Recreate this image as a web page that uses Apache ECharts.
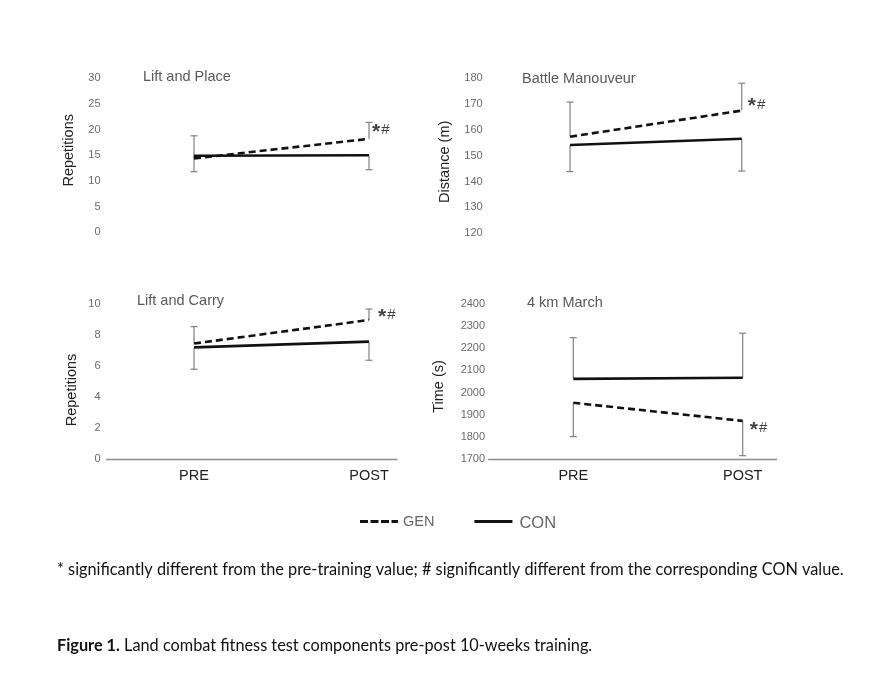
<!DOCTYPE html>
<html>
<head>
<meta charset="utf-8">
<script src="https://cdn.jsdelivr.net/npm/echarts@6/dist/echarts.min.js"></script>
<style>
html,body{margin:0;padding:0;background:#fff;}
#chart{width:875px;height:690px;}
</style>
</head>
<body>
<div id="chart"></div>
<script>
// ---------- data ----------
const categories = ['PRE', 'POST'];
const panelTitles = ['Lift and Place', 'Battle Manouveur', 'Lift and Carry', '4 km March'];
const yAxisNames = ['Repetitions', 'Distance (m)', 'Repetitions', 'Time (s)'];
const yMins = [0, 120, 0, 1700];
const yMaxs = [30, 180, 10, 2400];
const yIntervals = [5, 10, 2, 100];

const genLiftPlace = [14.4, 18.2];
const genLiftPlaceSD = [4.4, 3.2];
const conLiftPlace = [14.9, 15.0];
const conLiftPlaceSD = [3.1, 2.8];

const genBattle = [157.4, 167.5];
const genBattleSD = [13.4, 10.6];
const conBattle = [154.2, 156.6];
const conBattleSD = [10.3, 12.5];

const genCarry = [7.45, 8.97];
const genCarrySD = [1.09, 0.71];
const conCarry = [7.2, 7.57];
const conCarrySD = [1.41, 1.2];

const genMarch = [1954, 1872];
const genMarchSD = [153, 157];
const conMarch = [2062, 2067];
const conMarchSD = [186, 201];

// error bar drawn upward (+1) or downward (-1)
const genErrDir = [1, 1, 1, -1];
const conErrDir = [-1, -1, -1, 1];

const sigMark = '*#';
const seriesNames = ['GEN', 'CON'];
const footnote = '* significantly different from the pre-training value; # significantly different from the corresponding CON value.';
const captionBold = 'Figure 1.';
const captionText = ' Land combat fitness test components pre-post 10-weeks training.';

const genData = [genLiftPlace, genBattle, genCarry, genMarch];
const genSD = [genLiftPlaceSD, genBattleSD, genCarrySD, genMarchSD];
const conData = [conLiftPlace, conBattle, conCarry, conMarch];
const conSD = [conLiftPlaceSD, conBattleSD, conCarrySD, conMarchSD];

// ---------- layout ----------
const grids = [
  {left: 106.5, top: 78.3, width: 290.5, height: 154},
  {left: 484.2, top: 78.3, width: 291.9, height: 155},
  {left: 106.5, top: 304, width: 290.5, height: 155},
  {left: 488.6, top: 304, width: 288, height: 155}
];
const xMaxs = [1.16, 1.2, 1.16, 1.2];
const labelMargins = [6, 1.5, 6, 3.5];
const nameGaps = [30, 32, 27.5, 42.5];
const namePads = [[0,0,0,10],[0,12,0,0],[0,17,0,0],[0,10,0,0]];
const titlePos = [[143, 69], [522, 71], [137, 293], [527, 295]];
const sigLabel = [
  {position: 'right', distance: 3, offset: [0, -9]},
  {position: 'right', distance: 6, offset: [0, -6]},
  {position: 'right', distance: 9, offset: [0, -5]},
  {position: 'right', distance: 7, offset: [0, 7]}
];

const axisFont = 'Liberation Sans, Arial, sans-serif';
const lineColor = '#111';

function errItems(vals, sds, dir) {
  return categories.map((c, i) => [i, vals[i], vals[i] + dir * sds[i]]);
}

function renderErr(params, api) {
  const x = api.value(0);
  const p1 = api.coord([x, api.value(1)]);
  const p2 = api.coord([x, api.value(2)]);
  const cap = 3.5;
  const st = {stroke: '#808080', lineWidth: 1.2};
  return {
    type: 'group',
    children: [
      {type: 'line', shape: {x1: p1[0], y1: p1[1], x2: p2[0], y2: p2[1]}, style: st},
      {type: 'line', shape: {x1: p2[0] - cap, y1: p2[1], x2: p2[0] + cap, y2: p2[1]}, style: st}
    ]
  };
}

const title = panelTitles.map((t, i) => ({
  text: t, left: titlePos[i][0], top: titlePos[i][1], padding: 0,
  textStyle: {fontFamily: axisFont, fontSize: 14.5, fontWeight: 'normal', color: '#595959'}
}));
title.push({
  text: footnote, left: 57, top: 562, padding: 0,
  textStyle: {fontFamily: 'Lato, sans-serif', fontSize: 16.3, fontWeight: 'normal', color: '#111'}
});
title.push({
  text: '{b|' + captionBold + '}{n|' + captionText + '}', left: 57, top: 638, padding: 0,
  textStyle: {
    rich: {
      b: {fontFamily: 'Lato, sans-serif', fontSize: 16.3, fontWeight: 'bold', color: '#111'},
      n: {fontFamily: 'Lato, sans-serif', fontSize: 16.3, fontWeight: 'normal', color: '#111'}
    }
  }
});

const xAxis = grids.map((g, i) => ({
  type: 'value', gridIndex: i, min: -0.5, max: xMaxs[i], interval: 0.5,
  show: true,
  axisLine: {show: i >= 2, lineStyle: {color: '#8c8c8c', width: 1.3}},
  axisTick: {show: false},
  splitLine: {show: false},
  axisLabel: {
    show: i >= 2, margin: 9, showMaxLabel: false, showMinLabel: false,
    fontFamily: axisFont, fontSize: 14.5, color: '#222',
    formatter: v => (Math.abs(v - Math.round(v)) < 1e-9 && categories[Math.round(v)] !== undefined) ? categories[Math.round(v)] : ''
  }
}));

const yAxis = grids.map((g, i) => ({
  type: 'value', gridIndex: i, min: yMins[i], max: yMaxs[i], interval: yIntervals[i],
  axisLine: {show: false}, axisTick: {show: false}, splitLine: {show: false},
  axisLabel: {margin: labelMargins[i], fontFamily: axisFont, fontSize: 11, color: '#6b6b6b',
    formatter: v => String(v)},
  name: yAxisNames[i], nameLocation: 'middle', nameGap: nameGaps[i],
  nameTextStyle: {fontFamily: axisFont, fontSize: 14.5, color: '#222', padding: namePads[i]}
}));

const series = [];
for (let i = 0; i < 4; i++) {
  series.push({
    type: 'custom', name: seriesNames[0] + ' SD', xAxisIndex: i, yAxisIndex: i,
    renderItem: renderErr, encode: {x: 0, y: [1, 2]},
    data: errItems(genData[i], genSD[i], genErrDir[i]), z: 1, silent: true
  });
  series.push({
    type: 'custom', name: seriesNames[1] + ' SD', xAxisIndex: i, yAxisIndex: i,
    renderItem: renderErr, encode: {x: 0, y: [1, 2]},
    data: errItems(conData[i], conSD[i], conErrDir[i]), z: 1, silent: true
  });
  series.push({
    type: 'line', name: seriesNames[1], xAxisIndex: i, yAxisIndex: i,
    symbol: 'none', z: 3,
    lineStyle: {color: lineColor, width: 2.6, type: 'solid'},
    itemStyle: {color: lineColor},
    data: categories.map((c, k) => [k, conData[i][k]])
  });
  series.push({
    type: 'line', name: seriesNames[0], xAxisIndex: i, yAxisIndex: i,
    symbol: 'none', z: 4,
    lineStyle: {color: lineColor, width: 2.6, type: [7, 4]},
    itemStyle: {color: lineColor},
    data: categories.map((c, k) => [k, genData[i][k]])
  });
  // significance marker at the GEN post-training point
  const last = categories.length - 1;
  series.push({
    type: 'scatter', name: 'sig', xAxisIndex: i, yAxisIndex: i,
    symbolSize: 0, z: 5, silent: true,
    label: Object.assign({
      show: true,
      formatter: '{s|' + sigMark[0] + '}{h|' + sigMark.slice(1) + '}',
      rich: {
        s: {fontFamily: axisFont, fontSize: 21, fontWeight: 'bold', color: '#111', padding: [4, 1, 0, 0]},
        h: {fontFamily: axisFont, fontSize: 15, color: '#111'}
      }
    }, sigLabel[i]),
    data: [[last, genData[i][last]]]
  });
}

const genIcon = 'path://M0,0h8v3h-8z M10.5,0h8v3h-8z M21,0h8v3h-8z M31.5,0h6.5v3h-6.5z';
const conIcon = 'path://M0,0h38v3h-38z';

const chart = echarts.init(document.getElementById('chart'), null, {renderer: 'canvas'});
chart.setOption({
  animation: false,
  backgroundColor: '#fff',
  title: title,
  grid: grids,
  xAxis: xAxis,
  yAxis: yAxis,
  legend: {
    data: [{name: seriesNames[0], icon: genIcon}, {name: seriesNames[1], icon: conIcon}],
    left: 355, top: 509, itemWidth: 38, itemHeight: 3, itemGap: 40,
    selectedMode: false,
    itemStyle: {color: '#111', borderWidth: 0},
    formatter: n => '{' + n + '|' + n + '}',
    textStyle: {
      fontFamily: axisFont, fontSize: 15, color: '#666',
      rich: {
        GEN: {fontFamily: axisFont, fontSize: 14.5, color: '#666', padding: [0, 0, 0, 0]},
        CON: {fontFamily: axisFont, fontSize: 16.5, color: '#666', padding: [3, 0, 0, 2]}
      }
    }
  },
  series: series
});
</script>
</body>
</html>
